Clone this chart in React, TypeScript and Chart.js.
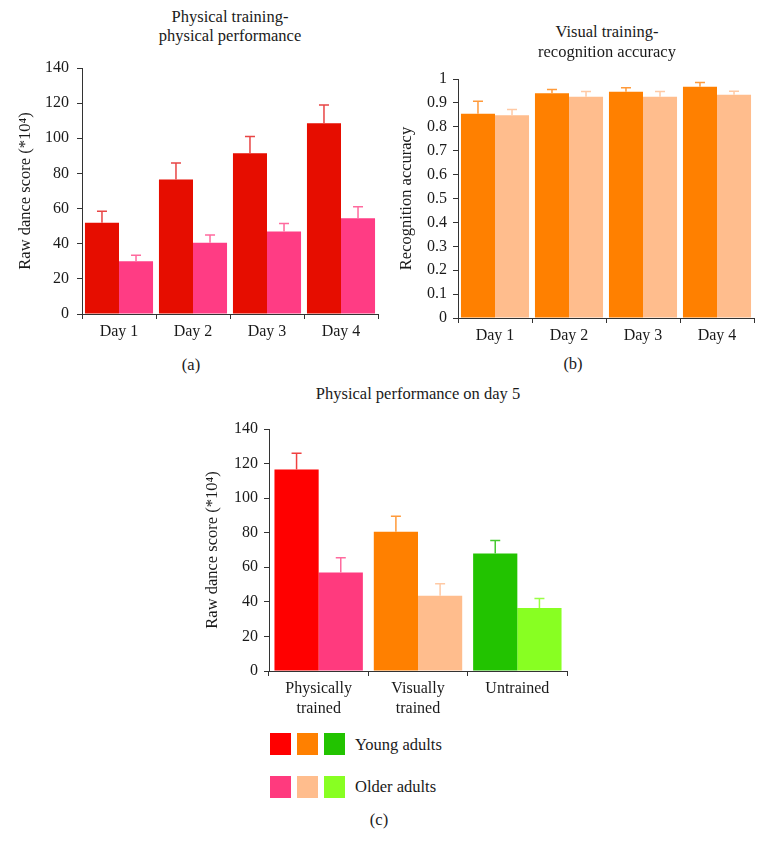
import React, { useEffect, useRef } from 'react';
import { Chart, registerables } from 'chart.js';
Chart.register(...registerables);

const FONT = '"Liberation Serif", "DejaVu Serif", serif';

// Panel (a): physical training – physical performance
const daysA = ['Day 1', 'Day 2', 'Day 3', 'Day 4'];
const youngA = [52, 76.5, 91.5, 108.5];
const youngAErr = [6.5, 9.5, 9.5, 10.5];
const olderA = [30, 40.5, 47, 54.5];
const olderAErr = [3.5, 4.5, 4.5, 6.5];
const ticksA = { max: 140, step: 20 };

// Panel (b): visual training – recognition accuracy
const daysB = ['Day 1', 'Day 2', 'Day 3', 'Day 4'];
const youngB = [0.855, 0.94, 0.947, 0.968];
const youngBErr = [0.052, 0.016, 0.016, 0.017];
const olderB = [0.848, 0.926, 0.926, 0.934];
const olderBErr = [0.024, 0.022, 0.022, 0.015];
const ticksB = { max: 1, step: 0.1 };

// Panel (c): physical performance on day 5
const groupsC = [['Physically', 'trained'], ['Visually', 'trained'], 'Untrained'];
const youngC = [116.5, 80.5, 68];
const youngCErr = [9.5, 9, 7.5];
const olderC = [57, 43.5, 36.5];
const olderCErr = [8.5, 7, 5.5];
const ticksC = { max: 140, step: 20 };

const legendRows = ['Young adults', 'Older adults'];

const COL = {
  redA: '#e60d00', pinkA: '#ff3c84',
  orange: '#ff8000', peach: '#ffbd8d',
  red: '#ff0000', pink: '#ff3a7e', green: '#22c300', lime: '#88ff22',
};
const ERRCOL = {
  redA: '#e84545', pinkA: '#ff6a9e',
  orange: '#ff9a3a', peach: '#ffc9a4',
  red: '#f04040', pink: '#ff6a9e', green: '#45c930', lime: '#99ff44',
};

const errorBarPlugin = {
  id: 'errorBars',
  afterDatasetsDraw(chart: any) {
    const ctx = chart.ctx;
    const yScale = chart.scales.y;
    chart.data.datasets.forEach((ds: any, di: number) => {
      if (!ds.errors) return;
      const meta = chart.getDatasetMeta(di);
      meta.data.forEach((bar: any, i: number) => {
        const v = ds.data[i];
        const top = yScale.getPixelForValue(v + ds.errors[i]);
        const x = bar.x;
        const y = bar.y;
        ctx.save();
        ctx.strokeStyle = Array.isArray(ds.errorColor) ? ds.errorColor[i] : ds.errorColor;
        ctx.lineWidth = 1.5;
        ctx.beginPath();
        ctx.moveTo(x, y);
        ctx.lineTo(x, top);
        ctx.moveTo(x - 5, top);
        ctx.lineTo(x + 5, top);
        ctx.stroke();
        ctx.restore();
      });
    });
  },
};

type PanelOpts = {
  labels: any[];
  datasets: any[];
  yMax: number;
  yStep: number;
  yTitle: string;
  yWidth: number;
  titlePad: number;
  xHeight: number;
  padTop: number;
  padRight: number;
  yTickPad: number;
  catPct: number;
  xLineHeight?: number;
};

function buildConfig(o: PanelOpts): any {
  const axisColor = '#333';
  const textColor = '#1a1a1a';
  return {
    type: 'bar',
    data: { labels: o.labels, datasets: o.datasets },
    plugins: [errorBarPlugin],
    options: {
      animation: false,
      responsive: false,
      devicePixelRatio: 1,
      layout: { padding: { top: o.padTop, right: o.padRight, left: 0, bottom: 0 } },
      plugins: { legend: { display: false }, tooltip: { enabled: false } },
      datasets: { bar: { categoryPercentage: o.catPct, barPercentage: 1 } },
      scales: {
        x: {
          offset: true,
          grid: { display: true, drawOnChartArea: false, offset: true, tickLength: 5, tickColor: axisColor, tickWidth: 1 },
          border: { color: axisColor, width: 1 },
          ticks: {
            color: textColor,
            font: { family: FONT, size: 16, lineHeight: o.xLineHeight || 1.2 },
            padding: 3,
            maxRotation: 0,
            autoSkip: false,
          },
          afterFit: (s: any) => { s.height = o.xHeight; },
        },
        y: {
          min: 0,
          max: o.yMax,
          ticks: {
            stepSize: o.yStep,
            color: textColor,
            font: { family: FONT, size: 16 },
            padding: o.yTickPad,
            callback: (v: any) => String(Math.round(Number(v) * 100) / 100),
          },
          grid: { drawOnChartArea: false, tickLength: 5, tickColor: axisColor, tickWidth: 1 },
          border: { color: axisColor, width: 1 },
          title: {
            display: true,
            text: o.yTitle,
            color: textColor,
            font: { family: FONT, size: 16.5 },
            padding: { top: o.titlePad, bottom: 0 },
          },
          afterFit: (s: any) => { s.width = o.yWidth; },
        },
      },
    },
  };
}

function Panel({ left, top, width, height, opts }: { left: number; top: number; width: number; height: number; opts: PanelOpts }) {
  const ref = useRef<HTMLCanvasElement>(null);
  useEffect(() => {
    if (!ref.current) return;
    const chart = new Chart(ref.current, buildConfig(opts));
    return () => chart.destroy();
  }, []);
  return (
    <canvas
      ref={ref}
      width={width}
      height={height}
      style={{ position: 'absolute', left, top, width, height }}
    />
  );
}

function Text({ x, y, children, size = 16.5 }: { x: number; y: number; children: any; size?: number }) {
  return (
    <div
      style={{
        position: 'absolute', left: x, top: y, transform: 'translate(-50%, -50%)',
        whiteSpace: 'nowrap', fontSize: size, lineHeight: '20px', textAlign: 'center',
      }}
    >
      {children}
    </div>
  );
}

export default function App() {
  const optsA: PanelOpts = {
    labels: daysA,
    datasets: [
      { label: 'Young adults', data: youngA, backgroundColor: COL.redA, errors: youngAErr, errorColor: ERRCOL.redA },
      { label: 'Older adults', data: olderA, backgroundColor: COL.pinkA, errors: olderAErr, errorColor: ERRCOL.pinkA },
    ],
    yMax: ticksA.max, yStep: ticksA.step,
    yTitle: 'Raw dance score (*10⁴)',
    yWidth: 82, titlePad: 16, xHeight: 30, padTop: 18, padRight: 4, yTickPad: 8, catPct: 0.92,
  };
  const optsB: PanelOpts = {
    labels: daysB,
    datasets: [
      { label: 'Young adults', data: youngB, backgroundColor: COL.orange, errors: youngBErr, errorColor: ERRCOL.orange },
      { label: 'Older adults', data: olderB, backgroundColor: COL.peach, errors: olderBErr, errorColor: ERRCOL.peach },
    ],
    yMax: ticksB.max, yStep: ticksB.step,
    yTitle: 'Recognition accuracy',
    yWidth: 73, titlePad: 12, xHeight: 30, padTop: 19, padRight: 11, yTickPad: 6, catPct: 0.92,
  };
  const optsC: PanelOpts = {
    labels: groupsC,
    datasets: [
      { label: 'Young adults', data: youngC, backgroundColor: [COL.red, COL.orange, COL.green], errors: youngCErr, errorColor: [ERRCOL.red, ERRCOL.orange, ERRCOL.green] },
      { label: 'Older adults', data: olderC, backgroundColor: [COL.pink, COL.peach, COL.lime], errors: olderCErr, errorColor: [ERRCOL.pink, ERRCOL.peach, ERRCOL.lime] },
    ],
    yMax: ticksC.max, yStep: ticksC.step,
    yTitle: 'Raw dance score (*10⁴)',
    yWidth: 89, titlePad: 23, xHeight: 50, padTop: 19, padRight: 8, yTickPad: 6, catPct: 0.89, xLineHeight: 1.25,
  };

  const youngSwatches = [COL.red, COL.orange, COL.green];
  const olderSwatches = [COL.pink, COL.peach, COL.lime];
  const swatchX = [270, 297, 324];

  return (
    <div
      style={{
        position: 'absolute', left: 0, top: 0, width: 765, height: 854,
        background: '#fff', fontFamily: FONT, color: '#1a1a1a', overflow: 'hidden',
      }}
    >
      <Panel left={0} top={50} width={382} height={294} opts={optsA} />
      <Panel left={385} top={60} width={380} height={288} opts={optsB} />
      <Panel left={180} top={410} width={395} height={311} opts={optsC} />

      <Text x={230} y={17}>Physical training-</Text>
      <Text x={230} y={36}>physical performance</Text>
      <Text x={191} y={365}>(a)</Text>

      <Text x={607} y={32}>Visual training-</Text>
      <Text x={607} y={52}>recognition accuracy</Text>
      <Text x={573} y={364}>(b)</Text>

      <Text x={418} y={394}>Physical performance on day 5</Text>

      {swatchX.map((x, i) => (
        <div key={'y' + i} style={{ position: 'absolute', left: x, top: 733, width: 21, height: 22, background: youngSwatches[i] }} />
      ))}
      {swatchX.map((x, i) => (
        <div key={'o' + i} style={{ position: 'absolute', left: x, top: 776, width: 21, height: 22, background: olderSwatches[i] }} />
      ))}
      <div style={{ position: 'absolute', left: 355, top: 745, transform: 'translateY(-50%)', fontSize: 16.5, whiteSpace: 'nowrap' }}>{legendRows[0]}</div>
      <div style={{ position: 'absolute', left: 355, top: 787, transform: 'translateY(-50%)', fontSize: 16.5, whiteSpace: 'nowrap' }}>{legendRows[1]}</div>
      <Text x={379} y={820}>(c)</Text>
    </div>
  );
}
